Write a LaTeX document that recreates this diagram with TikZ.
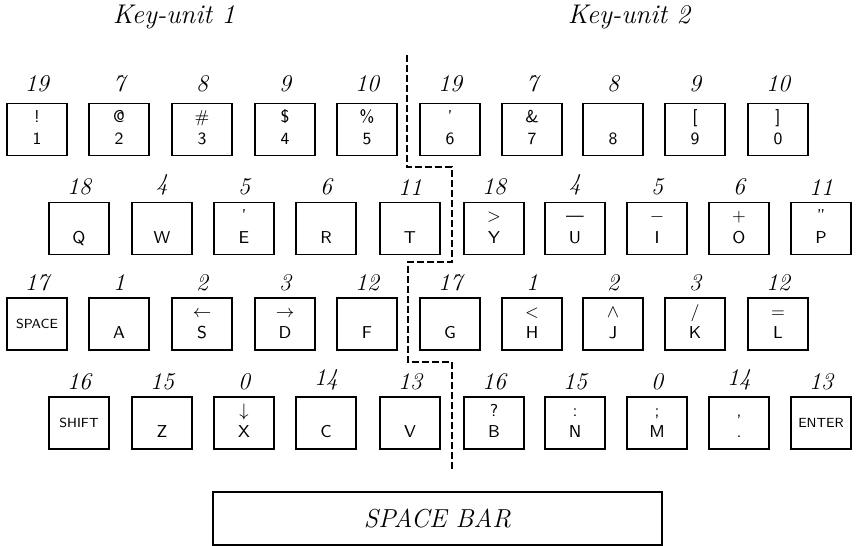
\documentclass[tikz,border=0pt]{standalone}
\usepackage{amsmath,amssymb}
\usepackage{fontspec}
\usepackage{tikz}
\usetikzlibrary{ positioning }
\newcommand{\keyface}[2]{\strut#1\\[0.8pt]\strut#2}

\begin{document}
\begin{tikzpicture}[
  x=0.5pt, y=-0.5pt,
  every node/.style={font=\small},
  keycap/.style={rectangle, draw, line width=0.75pt, inner sep=0pt,
                 minimum width=30pt, minimum height=26pt, align=center,
                 font=\sffamily\fontsize{8.6}{10}\selectfont},
  wordkey/.style={keycap, font=\sffamily\fontsize{6.6}{8}\selectfont},
  num/.style={font=\itshape\large, inner sep=0pt},
  title/.style={font=\itshape\fontsize{13.5}{15}\selectfont},
  divider/.style={line width=1.1pt, dash pattern=on 3.5pt off 1.5pt},
  label distance=3pt,
]
  \useasboundingbox (0,0) rectangle (857,546);
  % unit headings
  \node[title] (unit1) at (174,17) {Key-unit 1};
  \node[title] (unit2) at (629,17) {Key-unit 2};
  % top row
  \begin{scope}[label distance=5pt]
  \node[keycap, label={[num]above:19}] (k1) at (37,129.5)  {\keyface{!}{1}};
  \node[keycap, label={[num]above:7}]  (k2) at (119,129.5) {\keyface{@}{2}};
  \node[keycap, label={[num]above:8}]  (k3) at (202,129.5) {\keyface{\#}{3}};
  \node[keycap, label={[num]above:9}]  (k4) at (285,129.5) {\keyface{\$}{4}};
  \node[keycap, label={[num]above:10}] (k5) at (367,129.5) {\keyface{\%}{5}};
  \node[keycap, label={[num]above:19}] (k6) at (450,129.5) {\keyface{'}{6}};
  \node[keycap, label={[num]above:7}]  (k7) at (532,129.5) {\keyface{\&}{7}};
  \node[keycap, label={[num]above:8}]  (k8) at (613,129.5) {\keyface{}{8}};
  \node[keycap, label={[num]above:9}]  (k9) at (695,129.5) {\keyface{[}{9}};
  \node[keycap, label={[num]above:10}] (k0) at (778,129.5) {\keyface{]}{0}};
  \end{scope}
  % second row
  \node[keycap, label={[num]above:18}] (kQ) at (79,228.5)  {\keyface{}{Q}};
  \node[keycap, label={[num]above:4}]  (kW) at (162,228.5) {\keyface{}{W}};
  \node[keycap, label={[num]above:5}]  (kE) at (244,228.5) {\keyface{'}{E}};
  \node[keycap, label={[num]above:6}]  (kR) at (326,228.5) {\keyface{}{R}};
  \node[keycap, label={[num]above:11}] (kT) at (410,228.5) {\keyface{}{T}};
  \node[keycap, label={[num]above:18}] (kY) at (494,228.5) {\keyface{>}{Y}};
  \node[keycap, label={[num]above:4}]  (kU) at (575,228.5) {\keyface{—}{U}};
  \node[keycap, label={[num]above:5}]  (kI) at (657,228.5) {\keyface{$-$}{I}};
  \node[keycap, label={[num]above:6}]  (kO) at (739,228.5) {\keyface{+}{O}};
  \node[keycap, label={[num]above:11}] (kP) at (821,228.5) {\keyface{''}{P}};
  % third row
  \node[wordkey, label={[num]above:17}] (kspace) at (37,324) {SPACE};
  \node[keycap, label={[num]above:1}]  (kA) at (119,324) {\keyface{}{A}};
  \node[keycap, label={[num]above:2}]  (kS) at (202,324) {\keyface{$\leftarrow$}{S}};
  \node[keycap, label={[num]above:3}]  (kD) at (285,324) {\keyface{$\rightarrow$}{D}};
  \node[keycap, label={[num]above:12}] (kF) at (367,324) {\keyface{}{F}};
  \node[keycap, label={[num]above:17}] (kG) at (450,324) {\keyface{}{G}};
  \node[keycap, label={[num]above:1}]  (kH) at (532,324) {\keyface{<}{H}};
  \node[keycap, label={[num]above:2}]  (kJ) at (613,324) {\keyface{$\wedge$}{J}};
  \node[keycap, label={[num]above:3}]  (kK) at (695,324) {\keyface{/}{K}};
  \node[keycap, label={[num]above:12}] (kL) at (778,324) {\keyface{=}{L}};
  % bottom row
  \node[wordkey, label={[num]above:16}] (kshift) at (79,423) {SHIFT};
  \node[keycap, label={[num]above:15}] (kZ) at (162,423) {\keyface{}{Z}};
  \node[keycap, label={[num]above:0}]  (kX) at (244,423) {\keyface{$\downarrow$}{X}};
  \node[keycap, label={[num]above:14}] (kC) at (326,423) {\keyface{}{C}};
  \node[keycap, label={[num]above:13}] (kV) at (410,423) {\keyface{}{V}};
  \node[keycap, label={[num]above:16}] (kB) at (494,423) {\keyface{?}{B}};
  \node[keycap, label={[num]above:15}] (kN) at (575,423) {\keyface{:}{N}};
  \node[keycap, label={[num]above:0}]  (kM) at (657,423) {\keyface{;}{M}};
  \node[keycap, label={[num]above:14}] (kdot) at (739,423) {\keyface{,}{.}};
  \node[wordkey, label={[num]above:13}] (kenter) at (821,423) {ENTER};
  % space bar
  \node[draw, line width=0.75pt, minimum width=224.5pt, minimum height=26.5pt,
        font=\itshape\fontsize{13}{15}\selectfont] (bar) at (437.5,518.5) {SPACE BAR};
  % split between the two key-units
  \draw[divider] (407,55) -- (407,167) -- (452,167) -- (452,262)
    -- (408,262) -- (408,362) -- (452,362) -- (452,472);
\end{tikzpicture}
\end{document}
